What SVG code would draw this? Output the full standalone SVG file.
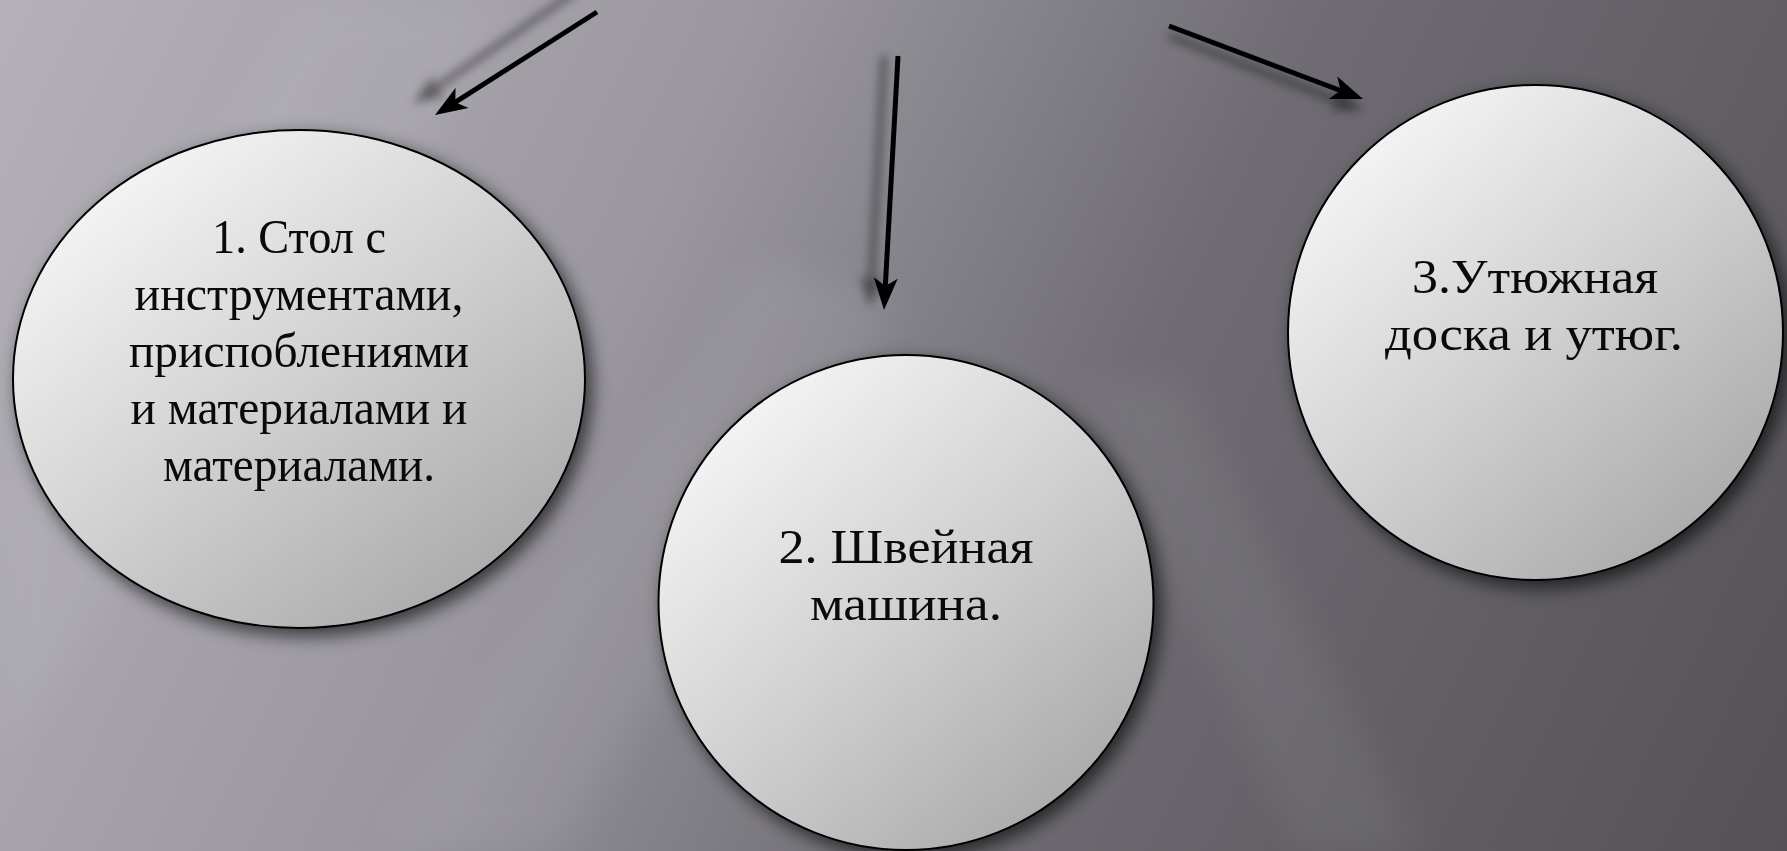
<svg xmlns="http://www.w3.org/2000/svg" width="1787" height="851" viewBox="0 0 1787 851">
  <defs>
    <linearGradient id="bg" gradientUnits="userSpaceOnUse" x1="0" y1="0" x2="1787" y2="851">
      <stop offset="0" stop-color="#b4b1b9"/>
      <stop offset="0.35" stop-color="#9a979f"/>
      <stop offset="0.6" stop-color="#6f6d73"/>
      <stop offset="1" stop-color="#545257"/>
    </linearGradient>
    <linearGradient id="fill" x1="0.12" y1="0.08" x2="0.88" y2="0.95">
      <stop offset="0" stop-color="#f7f7f7"/>
      <stop offset="0.5" stop-color="#d0d0d0"/>
      <stop offset="1" stop-color="#a6a6a6"/>
    </linearGradient>
    <filter id="shadow" x="-20%" y="-20%" width="140%" height="140%">
      <feDropShadow dx="6" dy="7" stdDeviation="9" flood-color="#000" flood-opacity="0.65"/>
    </filter>
    <filter id="blur" x="-30%" y="-30%" width="160%" height="160%">
      <feGaussianBlur stdDeviation="5"/>
    </filter>
    <filter id="soft" x="-10%" y="-10%" width="120%" height="120%">
      <feGaussianBlur stdDeviation="18"/>
    </filter>
    <marker id="head" markerUnits="userSpaceOnUse" viewBox="-14 -14 36 28" refX="0" refY="0" markerWidth="36" markerHeight="28" orient="auto">
      <path d="M20,0 L-12,-12 L-4,0 L-12,12 Z" fill="#000"/>
    </marker>
    <marker id="headShadow" markerUnits="userSpaceOnUse" viewBox="-14 -14 36 28" refX="0" refY="0" markerWidth="36" markerHeight="28" orient="auto">
      <path d="M20,0 L-12,-12 L-4,0 L-12,12 Z" fill="#000"/>
    </marker>
  </defs>
  <style>
    .node ellipse { fill: url(#fill); stroke: #000; stroke-width: 2; filter: url(#shadow); }
    .label { font-family: "Liberation Serif", "Times New Roman", serif; font-size: 49px; fill: #0a0a0a; text-anchor: middle; }
    .arrow { fill: none; stroke: #000; stroke-width: 5; marker-end: url(#head); }
    .arrow-shadow { fill: none; stroke: #000; stroke-width: 6; opacity: 0.45; marker-end: url(#headShadow); }
  </style>

  <g id="background">
    <rect x="0" y="0" width="1787" height="851" fill="url(#bg)"/>
    <polygon points="380,851 760,260 900,300 560,851" fill="#ffffff" opacity="0.06" filter="url(#soft)"/>
    <polygon points="1080,380 1180,380 1420,851 1300,851" fill="#ffffff" opacity="0.05" filter="url(#soft)"/>
    <polygon points="0,500 300,0 520,0 0,760" fill="#ffffff" opacity="0.05" filter="url(#soft)"/>
  </g>

  <g id="connectors">
    <g filter="url(#blur)">
      <path class="arrow-shadow" d="M575,-8 L430,92"/>
      <path class="arrow-shadow" d="M884,56 L871,287"/>
      <path class="arrow-shadow" d="M1169,36 L1344,103"/>
    </g>
    <path id="arrow-1" class="arrow" d="M597,12 L451.9,104.3"/>
    <path id="arrow-2" class="arrow" d="M898,56 L885.1,290"/>
    <path id="arrow-3" class="arrow" d="M1169,26 L1344.3,92"/>
  </g>

  <g id="node-1" class="node">
    <ellipse cx="299" cy="379" rx="286" ry="249"/>
    <text class="label" x="299" y="253" textLength="174" lengthAdjust="spacingAndGlyphs">1. Стол с</text>
    <text class="label" x="299" y="310" textLength="329" lengthAdjust="spacingAndGlyphs">инструментами,</text>
    <text class="label" x="299" y="367" textLength="340" lengthAdjust="spacingAndGlyphs">приспоблениями</text>
    <text class="label" x="299" y="424" textLength="337" lengthAdjust="spacingAndGlyphs">и материалами и</text>
    <text class="label" x="299" y="481" textLength="272" lengthAdjust="spacingAndGlyphs">материалами.</text>
  </g>

  <g id="node-2" class="node">
    <ellipse cx="906" cy="602.5" rx="247.5" ry="247.5"/>
    <text class="label" x="906" y="563" textLength="255" lengthAdjust="spacingAndGlyphs">2. Швейная</text>
    <text class="label" x="906" y="620" textLength="192" lengthAdjust="spacingAndGlyphs">машина.</text>
  </g>

  <g id="node-3" class="node">
    <ellipse cx="1535.5" cy="332.5" rx="247.5" ry="247.5"/>
    <text class="label" x="1535" y="293" textLength="246" lengthAdjust="spacingAndGlyphs">3.Утюжная</text>
    <text class="label" x="1534" y="350" textLength="298" lengthAdjust="spacingAndGlyphs">доска и утюг.</text>
  </g>
</svg>
